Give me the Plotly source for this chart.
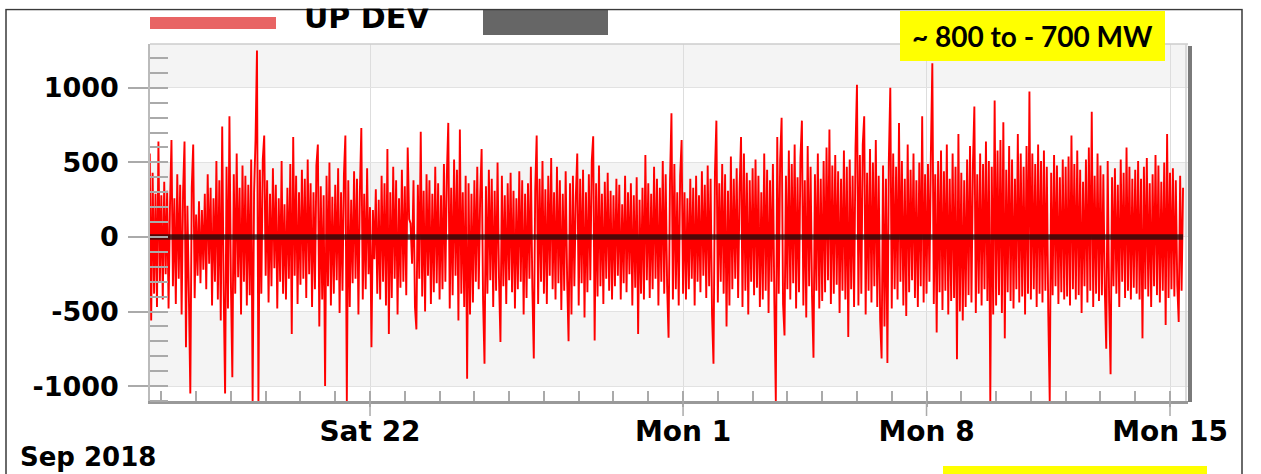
import pandas as pd
import plotly.graph_objects as go

# ---------------- data (hourly UP DEV, MW) ----------------
dev_0915 = [560, -560, 430, -380, 290, -470, 640, -300]  # starts 16:00
dev_0916 = [280, -420, 370, -250, 310, -480, 220, 650, -330, 260, -450, 420, -280, 350, -520, 300, 640, -740, 210, -380, -1050, 330, 620, -410]
dev_0917 = [150, -260, 240, -310, 180, -220, 290, -350, 420, -180, 330, -460, 260, -300, 510, -420, 380, -560, 740, -350, -1050, 470, -480, 810]
dev_0918 = [-300, -940, 420, -380, 560, -270, 330, -520, 480, -300, 410, -460, 350, -390, 520, -1100, 300, 650, 1250, -1100, 450, -380, 520, 680]
dev_0919 = [-260, 380, -440, 290, -330, 460, -210, 350, -480, 260, -300, 510, -380, 220, -420, 330, -280, 490, -650, 670, -260, 410, -450, 300]
dev_0920 = [-320, 450, -280, 390, -410, 520, -250, 360, -470, 300, -350, 480, 620, -600, 340, -420, 280, -1000, 410, -330, 500, -460, 270, -380]
dev_0921 = [350, -290, 460, -510, 300, -360, 420, 680, -1100, 380, -470, 250, -310, 440, -280, 390, -520, 310, 730, -420, 290, -350, 460, -250]
dev_0922 = [200, -740, 180, -150, 320, -380, 250, -420, 410, -300, 360, -460, 590, -650, 300, -410, 470, -280, 380, -520, 260, -340, 450, -300]
dev_0923 = [340, -390, 600, 120, 90, -180, 380, -470, -620, 350, -280, 705, -400, 310, -500, 420, -260, 380, -450, 290, -370, 470, -310, 360]
dev_0924 = [-420, 280, -350, 490, -300, 410, 765, -480, 330, -390, 520, -260, 450, -560, 720, -380, 300, -470, 410, -950, 360, -520, 290, -440]
dev_0925 = [380, -300, 470, -350, 260, 590, -420, -850, 340, -380, 450, -290, 390, -470, 310, -360, 500, -280, -705, 410, -330, 280, -450, 360]
dev_0926 = [-290, 430, -370, 310, -480, 260, -350, 440, -300, 380, -520, 290, -410, 360, -280, 470, -340, -815, 320, 680, -450, 390, -300, 510]
dev_0927 = [-380, 320, -450, 410, -260, 530, -350, 300, -420, 470, -310, 380, -490, 290, -360, 440, -280, -700, 360, -520, 410, -330, 270, 560]
dev_0928 = [-460, 390, -310, 450, -540, 300, -370, 420, -290, 510, 675, -695, 360, -400, 480, -330, 290, -450, 370, -280, 430, -360, 310, -420]
dev_0929 = [280, -330, 390, -260, 350, -420, 220, -310, 410, -370, 300, -250, 360, -460, 280, -340, 400, -650, 250, -380, 330, -420, 550, -290]
dev_0930 = [360, -410, 290, -350, 470, -280, 390, -460, 330, -300, 510, -380, 420, -330, -675, 380, 830, -420, 490, -350, 300, -460, 410, 650]
dev_1001 = [-380, 300, -420, 260, -350, 390, -280, 330, -460, 410, -300, 280, -370, 440, -260, 350, -410, 480, -330, 390, -520, -850, 430, 780]
dev_1002 = [-440, 360, -300, 490, -380, 420, -600, 310, -460, 540, -350, 390, -280, 460, -410, 320, 670, -470, 560, -360, 430, -520, 380, -300]
dev_1003 = [460, -390, 520, -340, 410, -470, 300, -420, 560, -360, 450, -510, 380, -300, 490, -440, -1100, 670, -380, 520, 800, -450, -660, 410]
dev_1004 = [-350, 580, -420, 490, -310, 620, -480, 400, -370, 530, 780, -460, 380, -540, 610, -330, 470, -400, -810, 420, -360, 560, -480, 390]
dev_1005 = [-430, 510, -370, 600, -290, 720, -450, 480, -380, 550, -320, 440, -510, 390, -360, 580, -420, 470, -670, 520, -350, 410, -470, 600]
dev_1006 = [1020, -460, 550, -380, 620, 810, -520, 430, -360, 590, -440, 500, -330, 650, -470, 410, -560, -815, 480, -600, 390, -845, 520, 1000]
dev_1007 = [-480, 560, -350, 470, -420, 765, -300, 510, -460, 390, -530, 620, -370, 450, -290, 560, -410, 380, -470, 500, -330, 810, -440, 420]
dev_1008 = [-380, 490, -300, 560, 1165, -450, 420, -640, 510, -370, 580, -490, 440, -360, 620, -520, 390, -430, 560, -410, 470, -820, 690, -500]
dev_1009 = [430, -560, 380, -470, 520, -390, 610, -440, 480, 875, -510, 420, -380, 560, -460, 490, -350, 640, -430, 510, -1100, 470, -520, 915]
dev_1010 = [-460, 580, -390, 650, -510, 770, -680, 450, -370, 610, -430, 520, -480, 390, -350, 690, -440, 560, -400, 470, -520, 610, -380, 975]
dev_1011 = [-420, 560, -350, 490, -470, 620, -380, 510, -440, 580, -360, 470, -510, -1100, 430, -390, 550, -330, 480, -450, 400, -370, 520, -420]
dev_1012 = [470, -400, 540, -460, 680, -350, 490, -420, 580, -390, 450, -510, 370, -330, 520, -440, 600, -360, 840, -470, 410, -380, 560, -430]
dev_1013 = [480, -390, 420, -350, -750, 510, -440, -920, 400, -330, 460, -380, 350, -470, 520, -300, 430, -410, 600, -360, 470, -420, 390, -340]
dev_1014 = [450, -380, 510, -420, 390, -680, 470, -350, 530, -400, 360, -470, 420, -330, 550, -390, 480, -440, 370, -360, 500, -590, 690, -410]
dev_1015 = [430, -350, 460, -400, 380, -320, -570, 410, -360, 330]

day_starts = ["2018-09-15 16:00", "2018-09-16", "2018-09-17", "2018-09-18", "2018-09-19", "2018-09-20",
              "2018-09-21", "2018-09-22", "2018-09-23", "2018-09-24", "2018-09-25", "2018-09-26",
              "2018-09-27", "2018-09-28", "2018-09-29", "2018-09-30", "2018-10-01", "2018-10-02",
              "2018-10-03", "2018-10-04", "2018-10-05", "2018-10-06", "2018-10-07", "2018-10-08",
              "2018-10-09", "2018-10-10", "2018-10-11", "2018-10-12", "2018-10-13", "2018-10-14",
              "2018-10-15"]
day_values = [dev_0915, dev_0916, dev_0917, dev_0918, dev_0919, dev_0920, dev_0921, dev_0922,
              dev_0923, dev_0924, dev_0925, dev_0926, dev_0927, dev_0928, dev_0929, dev_0930,
              dev_1001, dev_1002, dev_1003, dev_1004, dev_1005, dev_1006, dev_1007, dev_1008,
              dev_1009, dev_1010, dev_1011, dev_1012, dev_1013, dev_1014, dev_1015]

# second (dark) series: flat at zero across the period
dn_times = ["2018-09-15 16:00", "2018-10-15 09:00"]
dn_values = [0, 0]

y_tickvals = [-1000, -500, 0, 500, 1000]
y_ticktext = ["-1000", "-500", "0", "500", "1000"]
x_tickvals = ["2018-09-22", "2018-10-01", "2018-10-08", "2018-10-15"]
x_ticktext = ["Sat 22", "Mon 1", "Mon 8", "Mon 15"]

legend_label = "UP DEV"
note_text = "~ 800 to - 700 MW"
period_text = "Sep 2018"

# ---------------- build ----------------
times, vals = [], []
for start, v in zip(day_starts, day_values):
    t0 = pd.Timestamp(start)
    for i, val in enumerate(v):
        times.append(t0 + pd.Timedelta(hours=i))
        vals.append(val)

W, H = 1261, 474
def px(x): return x / W
def py(y): return 1 - y / H

XL, XR, YT, YB = 150, 1188, 44, 401
YMIN, YMAX = -1100, 1294

BOLD = dict(family="DejaVu Sans", size=27, color="black", weight="bold")
BOLDX = dict(family="DejaVu Sans", size=28, color="black", weight="bold")

fig = go.Figure()
fig.add_trace(go.Scatter(x=times, y=vals, mode="lines", line=dict(color="#ff0000", width=1.9, simplify=False),
                         showlegend=False, hoverinfo="skip"))
fig.add_trace(go.Scatter(x=dn_times, y=dn_values, mode="lines",
                         line=dict(color="rgba(35,10,10,0.8)", width=5.5), showlegend=False, hoverinfo="skip"))

shapes = []
# alternating bands
for lo, hi in [(1000, YMAX), (0, 500), (-1000, -500)]:
    shapes.append(dict(type="rect", xref="paper", yref="y", x0=px(XL), x1=px(XR), y0=lo, y1=hi,
                       fillcolor="#f4f4f4", line=dict(width=0), layer="below"))
# long major x ticks below the axis line
for tv in x_tickvals:
    shapes.append(dict(type="line", xref="x", yref="paper", x0=tv, x1=tv, y0=py(YB), y1=py(YB + 15),
                       line=dict(color="#aaaaaa", width=1.5)))
# plot borders
shapes.append(dict(type="line", xref="paper", yref="paper", x0=px(XL), x1=px(XR), y0=py(YT), y1=py(YT),
                   line=dict(color="#cccccc", width=1.5)))
shapes.append(dict(type="line", xref="paper", yref="paper", x0=px(1186), x1=px(1186), y0=py(YT), y1=py(YB),
                   line=dict(color="#d0d0d0", width=1.5)))
shapes.append(dict(type="line", xref="paper", yref="paper", x0=px(1190), x1=px(1190), y0=py(YT + 2), y1=py(YB + 1),
                   line=dict(color="#7a7a7a", width=4)))
# legend marks
shapes.append(dict(type="rect", xref="paper", yref="paper", x0=px(150), x1=px(276), y0=py(29), y1=py(17),
                   fillcolor="#e86464", line=dict(width=0)))
shapes.append(dict(type="rect", xref="paper", yref="paper", x0=px(483), x1=px(608), y0=py(35), y1=py(10),
                   fillcolor="#666666", line=dict(width=0)))
# yellow boxes
shapes.append(dict(type="rect", xref="paper", yref="paper", x0=px(900), x1=px(1165), y0=py(61), y1=py(11),
                   fillcolor="#ffff00", line=dict(width=0)))
shapes.append(dict(type="rect", xref="paper", yref="paper", x0=px(943), x1=px(1207), y0=py(485), y1=py(466),
                   fillcolor="#ffff00", line=dict(width=0)))
# outer frame
shapes.append(dict(type="rect", xref="paper", yref="paper", x0=px(6), x1=px(1242), y0=py(490), y1=py(9.5),
                   line=dict(color="#3a3a3a", width=1.5), fillcolor="rgba(0,0,0,0)"))

annotations = [
    dict(text=legend_label, xref="paper", yref="paper", x=px(302), y=py(17), xanchor="left", yanchor="middle",
         showarrow=False, font=dict(family="DejaVu Sans", size=30, color="black", weight="bold")),
    dict(text=" ", xref="paper", yref="paper", x=0.5, y=1, xanchor="center", yanchor="top", showarrow=False,
         width=W, height=7, bgcolor="white", borderpad=0),
    dict(text=note_text, xref="paper", yref="paper", x=px(1032), y=py(36), xanchor="center", yanchor="middle",
         showarrow=False, font=dict(family="Lato", size=28, color="black", weight="bold")),
    dict(text=period_text, xref="paper", yref="paper", x=px(18), y=py(457), xanchor="left", yanchor="middle",
         showarrow=False, font=dict(family="DejaVu Sans", size=26, color="black", weight="bold")),
]

fig.update_layout(
    width=W, height=H, margin=dict(l=0, r=0, t=0, b=0),
    paper_bgcolor="white", plot_bgcolor="white",
    shapes=shapes, annotations=annotations, showlegend=False,
    xaxis=dict(type="date", domain=[px(XL), px(XR)],
               range=["2018-09-15 16:11", "2018-10-15 12:25"],
               tickvals=x_tickvals, ticktext=x_ticktext, tickfont=BOLDX,
               ticks="outside", ticklen=3, tickwidth=1.5, tickcolor="#aaaaaa",
               showgrid=True, gridcolor="#dddddd", gridwidth=1,
               showline=True, linecolor="#999999", linewidth=3, zeroline=False,
               minor=dict(dtick=86400000, tick0="2018-09-16", ticks="inside", ticklen=10,
                          tickcolor="#aaaaaa", tickwidth=1.5, showgrid=False),
               automargin=False, fixedrange=True),
    yaxis=dict(domain=[py(YB), py(YT)], range=[YMIN, YMAX],
               tickvals=y_tickvals, ticktext=y_ticktext, tickfont=BOLD,
               ticks="outside", ticklen=20, tickwidth=1.5, tickcolor="#aaaaaa", ticklabelstandoff=4,
               showgrid=True, gridcolor="#e2e2e2", gridwidth=1,
               showline=True, linecolor="#bbbbbb", linewidth=1.5, zeroline=False,
               minor=dict(dtick=100, ticks="inside", ticklen=18, tickcolor="#aaaaaa", tickwidth=1.5,
                          showgrid=False),
               automargin=False, fixedrange=True),
)

fig.write_html("out.html", config={"displayModeBar": False},
               post_script="document.body.style.margin='0';document.body.style.padding='0';")
